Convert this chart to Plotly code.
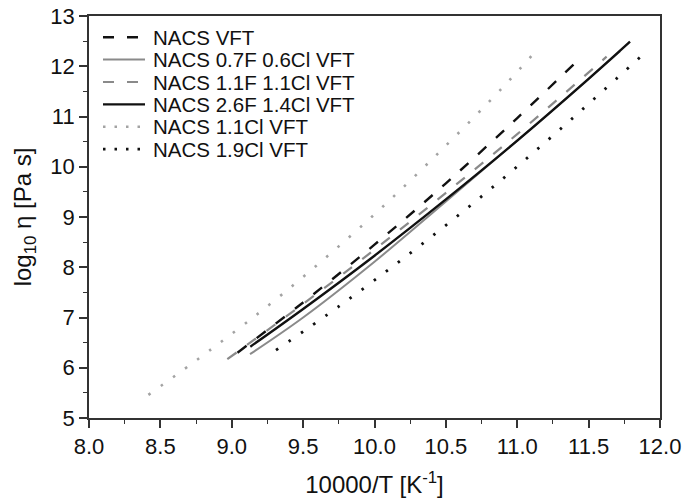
import plotly.graph_objects as go

# ---- data ----
x_nacs = [9.04, 9.5, 10.0, 10.5, 11.0, 11.404]
y_nacs = [6.30, 7.30, 8.45, 9.67, 10.97, 12.06]

x_07f = [9.128, 9.5, 10.0, 10.5, 11.0, 11.5, 11.72]
y_07f = [6.27, 7.00, 8.11, 9.31, 10.52, 11.75, 12.30]

x_11f = [8.969, 9.5, 10.0, 10.5, 11.0, 11.626]
y_11f = [6.17, 7.27, 8.35, 9.48, 10.65, 12.19]

x_26f = [9.13, 9.5, 10.0, 10.5, 11.0, 11.5, 11.79]
y_26f = [6.42, 7.17, 8.23, 9.35, 10.52, 11.75, 12.49]

x_11cl = [8.416, 8.848, 9.361, 9.968, 10.482, 10.902, 11.136]
y_11cl = [5.46, 6.35, 7.48, 8.97, 10.37, 11.59, 12.32]

x_19cl = [9.31, 9.75, 10.25, 10.75, 11.25, 11.895]
y_19cl = [6.35, 7.22, 8.28, 9.41, 10.62, 12.27]

names = ["NACS VFT", "NACS 0.7F 0.6Cl VFT", "NACS 1.1F 1.1Cl VFT",
         "NACS 2.6F 1.4Cl VFT", "NACS 1.1Cl VFT", "NACS 1.9Cl VFT"]

x_ticks = [8.0, 8.5, 9.0, 9.5, 10.0, 10.5, 11.0, 11.5, 12.0]
x_tick_labels = ["8.0", "8.5", "9.0", "9.5", "10.0", "10.5", "11.0", "11.5", "12.0"]
y_ticks = [5, 6, 7, 8, 9, 10, 11, 12, 13]

FONT = "Liberation Sans, Arial, sans-serif"
BLACK = "#111111"
GRAY = "#8a8a8a"
LGRAY = "#a3a3a3"
DASH = "11px,13px"
DOT = "2.5px,12.5px"

styles = [
    dict(color=BLACK, width=2.4, dash=DASH),
    dict(color=GRAY, width=2.0, dash="solid"),
    dict(color=GRAY, width=2.2, dash=DASH),
    dict(color=BLACK, width=2.4, dash="solid"),
    dict(color=LGRAY, width=2.6, dash=DOT),
    dict(color=BLACK, width=2.8, dash=DOT),
]
series = [(x_nacs, y_nacs), (x_07f, y_07f), (x_11f, y_11f),
          (x_26f, y_26f), (x_11cl, y_11cl), (x_19cl, y_19cl)]

fig = go.Figure()
order = [4, 5, 0, 1, 3, 2]
for i in order:
    xs, ys = series[i]
    fig.add_trace(go.Scatter(x=xs, y=ys, mode="lines", name=names[i],
                             line=dict(shape="spline", smoothing=1.0, **styles[i]),
                             showlegend=False))

# legend drawn inside the plot (top-left)
W, H = 571.0, 402.0
row_py = [37.3, 59.6, 82.0, 104.4, 126.8, 149.2]
legend_dash = [DASH, "solid", DASH, "solid", "2.5px,9px", "2.5px,9px"]
for i in range(6):
    yp = (418 - row_py[i]) / H
    st = styles[i]
    fig.add_shape(type="line", xref="paper", yref="paper",
                  x0=(103 - 89) / W, x1=(145 - 89) / W, y0=yp, y1=yp,
                  line=dict(color=st["color"], width=st["width"], dash=legend_dash[i]))
    fig.add_annotation(xref="paper", yref="paper", x=(151 - 89) / W, y=yp,
                       text=names[i], showarrow=False, xanchor="left", yanchor="middle",
                       font=dict(family=FONT, size=20.5, color="#111111"))

axis_common = dict(showline=True, linecolor="#333333", linewidth=1.8, mirror=True,
                   ticks="outside", tickcolor="#333333", tickwidth=1.6, ticklen=8,
                   showgrid=False, zeroline=False, automargin=False,
                   tickfont=dict(family=FONT, size=22, color="#111111"))

fig.update_xaxes(range=[8.0, 12.0], tickvals=x_ticks, ticktext=x_tick_labels,
                 minor=dict(dtick=0.25, ticks="outside", ticklen=4, tickcolor="#333333", tickwidth=1.4),
                 title=dict(text="10000/T [K<sup>-1</sup>]", standoff=18,
                            font=dict(family=FONT, size=24, color="#111111")),
                 **axis_common)
fig.update_yaxes(range=[5, 13], tickvals=y_ticks,
                 minor=dict(dtick=0.5, ticks="outside", ticklen=4, tickcolor="#333333", tickwidth=1.4),
                 title=dict(text="log<sub>10</sub> η [Pa s]", standoff=12,
                            font=dict(family=FONT, size=24, color="#111111")),
                 **axis_common)

fig.update_layout(width=689, height=503, margin=dict(l=89, r=29, t=16, b=85, autoexpand=False),
                  paper_bgcolor="white", plot_bgcolor="white", showlegend=False)

fig.write_html("out.html")
